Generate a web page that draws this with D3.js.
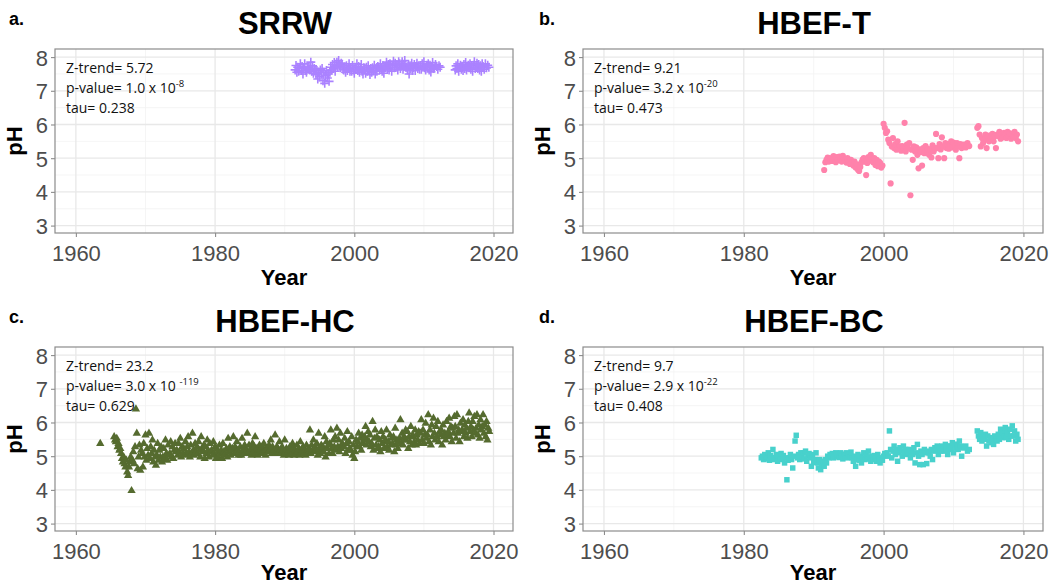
<!DOCTYPE html>
<html><head><meta charset="utf-8">
<script src="https://cdn.jsdelivr.net/npm/d3@7"></script>
<style>body{margin:0;background:#fff}svg{display:block}</style>
</head><body>
<svg id="c" width="1058" height="586"></svg>
<script>
// ---------- data ----------
const xTicks = [1960, 1980, 2000, 2020];
const yTicks = [3, 4, 5, 6, 7, 8];

const titles = ["SRRW", "HBEF-T", "HBEF-HC", "HBEF-BC"];
const panelLabels = ["a.", "b.", "c.", "d."];
const zTrend = ["5.72", "9.21", "23.2", "9.7"];
const pMantissa = ["1.0 x 10", "3.2 x 10", "3.0 x 10 ", "2.9 x 10"];
const pExponent = ["-8", "-20", "-119", "-22"];
const tau = ["0.238", "0.473", "0.629", "0.408"];

// each group starts at a (decimal) year; samples inside a group are spread over that year
const srrwStart = [1991.5,1992.5,1993.5,1994.5,1995.5,1996.5,1997.5,1998.5,1999.5,2000.5,2001.5,2002.5,2003.5,2004.5,2005.5,2006.5,2007.5,2008.5,2009.5,2010.5,2011.5,2014.5,2015.5,2016.5,2017.5,2018.5];
const srrwPH = [
 [7.62,7.75,7.55,7.70,7.58,7.68,7.80,7.60],
 [7.72,7.50,7.66,7.80,7.60,7.55,7.70,7.64],
 [7.70,7.62,7.85,7.58,7.74,7.52,7.66,7.60],
 [7.48,7.60,7.35,7.55,7.42,7.62,7.50,7.66],
 [7.30,7.55,7.22,7.45,7.60,7.38,7.50,7.28],
 [7.55,7.70,7.62,7.78,7.66,7.84,7.58,7.74],
 [7.85,7.72,7.90,7.78,7.68,7.82,7.76,7.64],
 [7.62,7.70,7.55,7.74,7.60,7.66,7.80,7.58],
 [7.68,7.58,7.75,7.62,7.52,7.70,7.64,7.80],
 [7.60,7.72,7.55,7.66,7.78,7.58,7.50,7.68],
 [7.64,7.52,7.70,7.58,7.74,7.62,7.48,7.66],
 [7.55,7.68,7.60,7.76,7.50,7.66,7.58,7.72],
 [7.70,7.62,7.80,7.66,7.58,7.74,7.52,7.68],
 [7.72,7.85,7.66,7.78,7.62,7.80,7.70,7.58],
 [7.75,7.88,7.68,7.82,7.70,7.78,7.62,7.86],
 [7.80,7.66,7.74,7.86,7.64,7.72,7.90,7.70],
 [7.70,7.62,7.78,7.50,7.74,7.66,7.82,7.60],
 [7.68,7.78,7.60,7.72,7.82,7.66,7.74,7.64],
 [7.74,7.64,7.80,7.70,7.86,7.68,7.62,7.76],
 [7.72,7.80,7.62,7.76,7.56,7.70,7.84,7.66],
 [7.68,7.78,7.72,7.64,7.74,7.70],
 [7.62,7.74,7.66,7.80,7.58,7.70,7.76,7.64],
 [7.72,7.60,7.78,7.66,7.84,7.62,7.70,7.76],
 [7.68,7.80,7.64,7.74,7.58,7.76,7.86,7.66],
 [7.70,7.82,7.66,7.78,7.62,7.74,7.58,7.80],
 [7.72,7.64,7.80,7.68,7.76,7.70]
];

const tStart = [1991.5,1992.5,1993.5,1994.5,1995.5,1996.5,1997.5,1998.5,1999.5,2000.5,2001.5,2002.5,2003.5,2004.5,2005.5,2006.5,2007.5,2008.5,2009.5,2010.5,2011.5,2013.4,2014.4,2015.4,2016.4,2017.4,2018.4];
const tPH = [
 [4.65,4.88,4.95,5.02,4.90,4.96],
 [5.00,4.92,5.06,4.95,4.88,5.03],
 [4.94,5.05,4.97,4.90,5.07,4.99],
 [4.96,4.87,5.00,4.90,4.83,4.95],
 [4.86,4.78,4.90,4.72,4.82,4.66],
 [4.62,4.74,4.88,4.96,5.00,4.90],
 [4.50,4.86,5.03,4.93,5.10,4.97],
 [4.88,5.00,4.80,4.95,4.76,4.90],
 [4.86,4.72,4.78,6.02,5.90,5.75],
 [5.80,5.55,5.45,4.25,5.35,5.60],
 [5.30,5.42,5.25,5.50,5.28,5.35],
 [5.22,5.36,5.28,6.05,5.20,5.40],
 [5.30,5.45,3.90,5.25,4.95,5.35],
 [5.20,5.32,5.10,4.70,5.26,5.18],
 [4.78,5.30,5.15,5.36,5.22,5.28],
 [5.10,5.25,5.02,5.38,5.20,5.30],
 [5.72,5.30,5.00,5.42,5.26,5.62],
 [5.35,5.00,5.45,5.30,5.40,5.28],
 [5.42,5.50,5.32,5.46,5.38,5.25],
 [5.45,5.35,5.00,5.42,5.30,5.38],
 [5.40,5.32,5.45,5.36],
 [5.90,5.95,5.70,5.35,5.60,5.45],
 [5.55,5.70,5.30,5.62,5.50,5.68],
 [5.60,5.72,5.50,5.65,5.30,5.70],
 [5.66,5.78,5.58,5.72,5.62,5.75],
 [5.70,5.60,5.78,5.66,5.74,5.58],
 [5.72,5.64,5.78,5.60,5.70,5.50]
];

const hcStart = [1963.5,1965.5,1966.5,1967.5,1968.5,1969.5,1970.5,1971.5,1972.5,1973.5,1974.5,1975.5,1976.5,1977.5,1978.5,1979.5,1980.5,1981.5,1982.5,1983.5,1984.5,1985.5,1986.5,1987.5,1988.5,1989.5,1990.5,1991.5,1992.5,1993.5,1994.5,1995.5,1996.5,1997.5,1998.5,1999.5,2000.5,2001.5,2002.5,2003.5,2004.5,2005.5,2006.5,2007.5,2008.5,2009.5,2010.5,2011.5,2012.5,2013.5,2014.5,2015.5,2016.5,2017.5,2018.5];
const hcPH = [
 [5.40],
 [5.60,5.50,5.45,5.55,5.30,5.40,5.20,5.25],
 [5.10,4.95,4.85,5.00,4.80,4.70,4.90,4.55],
 [4.45,4.70,4.85,5.00,4.00,4.90,5.15,4.80],
 [5.30,6.42,5.70,4.65,5.00,5.35,4.60,5.20],
 [5.10,4.70,5.40,5.00,5.65,4.90,5.25,5.05],
 [5.70,4.95,5.30,5.10,5.50,4.85,5.20,5.00],
 [4.75,5.05,5.40,4.90,5.20,5.00,5.30,4.85],
 [5.00,5.25,4.95,5.50,5.10,4.90,5.35,5.05],
 [5.10,5.45,5.00,5.30,4.95,5.20,5.40,5.15],
 [5.20,5.05,5.40,5.15,5.55,5.00,5.30,5.10],
 [5.25,5.05,5.45,5.10,5.30,5.60,5.15,5.00],
 [5.35,5.10,5.70,5.20,5.05,5.40,5.15,5.30],
 [5.10,5.45,5.20,5.00,5.60,5.25,5.15,5.35],
 [4.95,5.30,5.10,5.50,5.20,5.00,5.40,5.15],
 [5.20,5.05,5.45,5.10,5.30,4.95,5.25,5.15],
 [5.00,5.35,5.10,5.20,4.95,5.40,5.15,5.05],
 [5.10,5.25,5.00,5.55,5.15,5.30,5.05,5.20],
 [5.25,5.60,5.10,5.30,5.15,5.45,5.20,5.05],
 [5.15,5.30,5.05,5.55,5.20,5.10,5.35,5.25],
 [5.20,5.70,5.10,5.35,5.15,5.25,5.05,5.40],
 [5.15,5.30,5.60,5.10,5.25,5.05,5.20,5.35],
 [5.20,5.10,5.30,5.15,5.40,5.20,5.05,5.25],
 [5.25,5.15,5.35,5.20,5.50,5.10,5.30,5.20],
 [5.20,5.65,5.10,5.30,5.25,5.15,5.45,5.20],
 [5.10,5.30,5.20,5.05,5.50,5.15,5.25,5.10],
 [5.15,5.05,5.30,5.20,5.10,5.40,5.25,5.05],
 [5.20,5.10,5.35,5.15,5.25,5.05,5.45,5.20],
 [5.15,5.30,5.10,5.20,5.05,5.35,5.20,5.10],
 [5.25,5.80,5.10,5.35,5.20,5.50,5.15,5.30],
 [5.20,5.40,5.05,5.70,5.25,5.10,5.35,5.20],
 [5.30,5.15,5.60,5.00,5.45,5.25,5.35,5.10],
 [5.40,5.80,5.25,5.10,5.50,5.30,5.60,5.20],
 [5.85,5.30,5.50,5.15,5.70,5.25,5.40,5.35],
 [5.30,5.55,5.10,5.40,5.75,5.20,5.45,5.25],
 [5.20,5.60,5.05,5.35,4.95,5.15,5.50,5.30],
 [5.45,5.70,5.30,5.55,5.20,5.65,5.40,5.50],
 [5.60,5.90,5.35,5.50,5.75,5.45,5.65,5.30],
 [5.40,6.05,5.20,5.55,5.80,5.35,5.60,5.25],
 [5.30,5.50,5.15,5.75,5.40,5.60,5.25,5.45],
 [5.50,5.80,5.30,5.45,5.20,5.65,5.35,5.55],
 [5.40,5.60,5.15,5.85,5.35,5.50,5.25,5.45],
 [5.55,6.10,5.40,5.70,5.35,5.60,5.50,5.80],
 [5.50,5.75,5.25,5.60,5.45,5.90,5.35,5.65],
 [5.60,5.45,5.80,5.35,5.65,5.50,5.75,5.40],
 [5.70,6.10,5.50,5.80,5.40,5.65,6.00,5.55],
 [5.65,6.25,5.45,5.80,5.35,5.95,5.60,6.15],
 [5.70,5.50,5.90,5.60,6.05,5.45,5.75,5.65],
 [5.80,5.35,5.95,5.60,5.70,5.50,6.05,5.65],
 [5.75,6.15,5.60,5.90,5.45,5.85,5.70,6.20],
 [5.90,5.55,6.25,5.70,5.80,5.45,6.00,5.75],
 [5.80,6.10,5.60,5.95,5.70,5.85,5.55,6.05],
 [6.30,5.75,5.90,5.60,6.05,5.80,6.20,5.70],
 [5.85,6.25,5.65,5.95,5.55,6.10,5.80,5.90],
 [6.25,5.70,5.95,5.60,6.05,5.50,5.85,5.75]
];

const bcStart = [1982.5,1983.5,1984.5,1985.5,1986.5,1987.5,1988.5,1989.5,1990.5,1991.5,1992.5,1993.5,1994.5,1995.5,1996.5,1997.5,1998.5,1999.5,2000.5,2001.5,2002.5,2003.5,2004.5,2005.5,2006.5,2007.5,2008.5,2009.5,2010.5,2011.5,2013.4,2014.4,2015.4,2016.4,2017.4,2018.4];
const bcPH = [
 [4.95,5.00,4.90,5.05,4.92,4.98],
 [5.10,4.88,5.02,4.95,5.20,4.90],
 [4.96,5.05,4.85,5.00,4.92,5.08],
 [4.90,5.02,4.80,4.95,4.30,4.88],
 [4.95,5.05,4.90,4.65,5.00,5.45],
 [5.62,4.95,5.05,4.90,5.10,4.98],
 [5.10,4.92,5.15,4.85,5.00,5.08],
 [4.95,4.70,5.05,4.82,4.90,5.10],
 [4.80,4.65,4.90,4.60,4.75,4.85],
 [4.70,4.90,4.80,5.00,4.95,5.05],
 [5.00,5.08,4.95,5.02,5.10,4.98],
 [5.05,4.96,5.10,5.00,4.92,5.06],
 [5.02,5.10,4.95,5.05,4.98,5.12],
 [4.95,4.85,5.00,4.70,4.90,5.05],
 [4.88,5.00,4.80,4.95,5.10,4.90],
 [5.05,4.92,5.15,4.98,4.85,5.00],
 [4.90,5.02,4.95,4.85,5.05,4.92],
 [4.80,4.95,4.88,5.00,5.08,5.05],
 [5.10,5.00,5.75,5.20,4.95,5.15],
 [5.30,5.05,5.20,4.85,5.10,5.25],
 [5.15,5.00,5.30,5.10,5.20,5.05],
 [5.10,5.20,4.95,5.15,5.05,5.25],
 [4.80,5.10,5.35,5.00,4.75,5.15],
 [5.05,4.75,5.20,5.10,4.78,5.15],
 [5.10,5.00,5.20,4.90,5.15,5.25],
 [5.20,5.30,5.05,5.25,5.15,5.30],
 [5.25,5.15,5.35,5.20,5.05,5.30],
 [5.30,5.20,5.40,5.10,5.35,5.25],
 [5.35,5.20,5.45,5.30,5.00,5.25],
 [5.25,5.30,5.15,5.20],
 [5.75,5.60,5.50,5.70,5.45,5.55],
 [5.50,5.65,5.30,5.60,5.45,5.55],
 [5.40,5.55,5.35,5.60,5.50,5.45],
 [5.65,5.50,5.80,5.55,5.70,5.60],
 [5.85,5.55,5.70,5.50,5.80,5.60],
 [5.90,5.60,5.75,5.45,5.65,5.50]
];

const starts = [srrwStart, tStart, hcStart, bcStart];
const values = [srrwPH, tPH, hcPH, bcPH];
const colors = ["#AB82FF", "#FF82AB", "#556B2F", "#48D1CC"];
const shapes = ["plus", "circle", "triangle", "square"];

// ---------- layout ----------
const rects = [
  {x0: 55, x1: 513, y0: 49, y1: 233, top: 0, lx: 9},
  {x0: 583, x1: 1043, y0: 49, y1: 233, top: 0, lx: 539},
  {x0: 55, x1: 513, y0: 347, y1: 531, top: 298, lx: 9},
  {x0: 583, x1: 1043, y0: 347, y1: 531, top: 298, lx: 539}
];
const xDomain = [1957, 2022.8];
const yDomain = [2.78, 8.24];

const svg = d3.select("#c");
const axisFont = "'Liberation Sans', Arial, sans-serif";

rects.forEach((r, i) => {
  const x = d3.scaleLinear().domain(xDomain).range([r.x0, r.x1]);
  const y = d3.scaleLinear().domain(yDomain).range([r.y1, r.y0]);
  const g = svg.append("g");
  const cx = (r.x0 + r.x1) / 2;

  // panel label & title
  g.append("text").attr("x", r.lx).attr("y", r.top + 25)
    .attr("font-family", axisFont).attr("font-weight", "bold").attr("font-size", 18)
    .text(panelLabels[i]);
  g.append("text").attr("x", cx + 1).attr("y", r.top + 34).attr("text-anchor", "middle")
    .attr("font-family", axisFont).attr("font-weight", "bold").attr("font-size", 31)
    .text(titles[i]);

  // grid
  const minorX = [1970, 1990, 2010];
  const minorY = [3.5, 4.5, 5.5, 6.5, 7.5];
  g.selectAll(".mnx").data(minorX).join("line")
    .attr("x1", d => x(d)).attr("x2", d => x(d)).attr("y1", r.y0).attr("y2", r.y1)
    .attr("stroke", "#f2f2f2").attr("stroke-width", 0.8);
  g.selectAll(".mny").data(minorY).join("line")
    .attr("y1", d => y(d)).attr("y2", d => y(d)).attr("x1", r.x0).attr("x2", r.x1)
    .attr("stroke", "#f2f2f2").attr("stroke-width", 0.8);
  g.selectAll(".mjx").data(xTicks).join("line")
    .attr("x1", d => x(d)).attr("x2", d => x(d)).attr("y1", r.y0).attr("y2", r.y1)
    .attr("stroke", "#e8e8e8").attr("stroke-width", 1.3);
  g.selectAll(".mjy").data(yTicks).join("line")
    .attr("y1", d => y(d)).attr("y2", d => y(d)).attr("x1", r.x0).attr("x2", r.x1)
    .attr("stroke", "#e8e8e8").attr("stroke-width", 1.3);

  // points
  const pts = [];
  starts[i].forEach((s, gi) => {
    const vals = values[i][gi];
    vals.forEach((v, k) => pts.push({t: s + k / vals.length, v: v}));
  });
  const col = colors[i];
  const shp = shapes[i];
  const pg = g.append("g");
  if (shp === "plus") {
    pg.selectAll("path").data(pts).join("path")
      .attr("transform", d => `translate(${x(d.t)},${y(d.v)})`)
      .attr("d", "M-4.5,0H4.5M0,-4.5V4.5").attr("stroke", col).attr("stroke-width", 1.6)
      .attr("fill", "none");
  } else {
    const sym = {circle: d3.symbolCircle, triangle: d3.symbolTriangle, square: d3.symbolSquare}[shp];
    const size = {circle: 30, triangle: 30, square: 30}[shp];
    pg.selectAll("path").data(pts).join("path")
      .attr("transform", d => `translate(${x(d.t)},${y(d.v) + (shp === "triangle" ? 0.8 : 0)})`)
      .attr("d", d3.symbol().type(sym).size(size)).attr("fill", col);
  }

  // border
  g.append("rect").attr("x", r.x0).attr("y", r.y0).attr("width", r.x1 - r.x0).attr("height", r.y1 - r.y0)
    .attr("fill", "none").attr("stroke", "#8c8c8c").attr("stroke-width", 1.2);

  // axes
  const xa = g.append("g").attr("transform", `translate(0,${r.y1})`)
    .call(d3.axisBottom(x).tickValues(xTicks).tickFormat(d3.format("d")).tickSize(4).tickPadding(3));
  const ya = g.append("g").attr("transform", `translate(${r.x0},0)`)
    .call(d3.axisLeft(y).tickValues(yTicks).tickFormat(d3.format("d")).tickSize(4).tickPadding(3));
  [xa, ya].forEach(a => {
    a.select(".domain").remove();
    a.selectAll(".tick line").attr("stroke", "#8c8c8c").attr("stroke-width", 1.1);
    a.selectAll(".tick text").attr("fill", "#4d4d4d").attr("font-size", 22).attr("font-family", axisFont);
  });
  xa.selectAll(".tick text").attr("dy", "0.95em");
  ya.selectAll(".tick text").attr("dy", "0.36em");

  // axis titles
  g.append("text").attr("x", cx).attr("y", r.y1 + (i < 2 ? 52 : 49)).attr("text-anchor", "middle")
    .attr("font-family", axisFont).attr("font-weight", "bold").attr("font-size", 22).text("Year");
  g.append("text").attr("transform", `translate(${r.x0 - 33},${(r.y0 + r.y1) / 2}) rotate(-90)`)
    .attr("text-anchor", "middle").attr("font-family", axisFont).attr("font-weight", "bold")
    .attr("font-size", 22).text("pH");

  // annotation
  const ax = r.x0 + 11;
  const af = "'Open Sans', Lato, sans-serif";
  const base = r.y0 + 24;
  g.append("text").attr("x", ax).attr("y", base).attr("font-family", af).attr("font-size", 14)
    .attr("fill", "#111").text("Z-trend= " + zTrend[i]);
  const pt = g.append("text").attr("x", ax).attr("y", base + 19.5).attr("font-family", af).attr("font-size", 14)
    .attr("fill", "#111");
  pt.append("tspan").text("p-value= " + pMantissa[i]);
  pt.append("tspan").attr("dy", -5.5).attr("font-size", 9.5).text(pExponent[i]);
  g.append("text").attr("x", ax).attr("y", base + 39.5).attr("font-family", af).attr("font-size", 14)
    .attr("fill", "#111").text("tau= " + tau[i]);
});
</script>
</body></html>
